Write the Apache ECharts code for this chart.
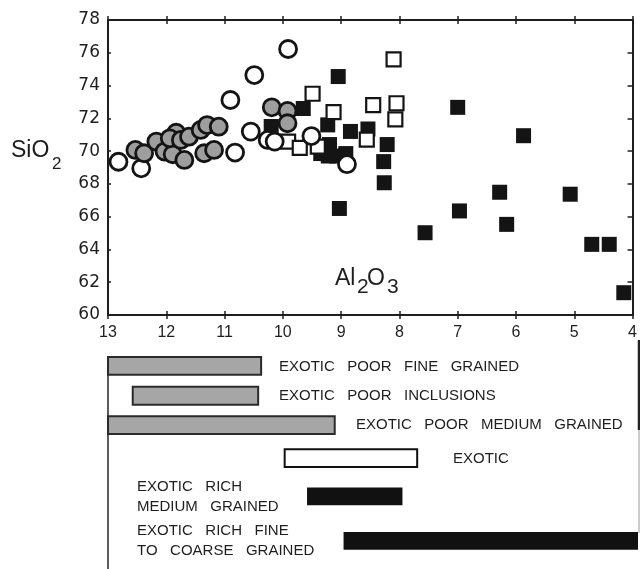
<!DOCTYPE html>
<html>
<head>
<meta charset="utf-8">
<script src="https://cdn.jsdelivr.net/npm/echarts@6/dist/echarts.min.js"></script>
<style>
html,body{margin:0;padding:0;background:#fff;}
#chart{width:640px;height:569px;}
</style>
</head>
<body>
<div id="chart"></div>
<script>
// ---- data (Al2O3, SiO2) ----
const grayCircles = [
  [12.53,70.07],[12.38,69.87],[12.17,70.58],[12.03,69.97],[11.89,69.81],[11.83,71.12],
  [11.94,70.78],[11.69,69.46],[11.75,70.68],[11.61,70.88],[11.41,71.29],[11.30,71.59],
  [11.10,71.49],[11.35,69.87],[11.18,70.07],[10.19,72.67],[9.92,72.45],[9.92,71.70]
];
const whiteCircles = [
  [12.82,69.35],[12.43,68.95],[10.82,69.91],[10.90,73.12],[10.49,74.64],[9.91,76.23],
  [10.55,71.19],[10.26,70.68],[10.14,70.58],[9.51,70.92],[8.90,69.20]
];
const openSquares = [
  [9.49,73.50],[9.91,70.58],[9.71,70.20],[9.40,70.27],[9.13,72.38],[8.10,75.60],
  [8.45,72.81],[8.05,72.92],[8.07,71.94],[8.56,70.70]
];
const blackSquares = [
  [10.20,71.50],[9.05,74.55],[9.65,72.60],[9.23,71.60],[8.84,71.20],[8.54,71.35],
  [8.21,70.40],[9.20,70.40],[9.35,69.85],[9.22,69.70],[9.08,69.70],[8.92,69.85],
  [8.27,69.36],[8.26,68.07],[9.03,66.50],[7.00,72.67],[5.87,70.94],[6.28,67.49],
  [6.97,66.35],[6.16,65.53],[7.56,65.02],[5.07,67.37],[4.70,64.31],[4.40,64.31],[4.15,61.36]
];
// ---- range bars (Al2O3 ranges) ----
const rangeLabels = [
  'EXOTIC   POOR   FINE   GRAINED',
  'EXOTIC   POOR   INCLUSIONS',
  'EXOTIC   POOR   MEDIUM   GRAINED',
  'EXOTIC',
  'EXOTIC   RICH\nMEDIUM   GRAINED',
  'EXOTIC   RICH   FINE\nTO   COARSE   GRAINED'
];
const rangeStart = [13.0, 12.58, 13.0, 10.0, 9.62, 9.0];
const rangeEnd   = [10.4, 10.45, 9.15, 7.75, 8.0, 4.0];
const xTicks = { min: 4, max: 13, interval: 1 };
const yTicks = { min: 60, max: 78, interval: 2 };

// ---- layout / style (not data) ----
const rowLevel = [0, 0.97, 1.93, 3, 4.25, 5.7];
const barStyles = [
  {fill:'#a6a6a6', stroke:'#2a2a2a', lineWidth:2},
  {fill:'#a6a6a6', stroke:'#2a2a2a', lineWidth:2},
  {fill:'#a6a6a6', stroke:'#2a2a2a', lineWidth:2},
  {fill:'#ffffff', stroke:'#111111', lineWidth:2},
  {fill:'#111111', stroke:'#111111', lineWidth:0},
  {fill:'#111111', stroke:'#111111', lineWidth:0}
];
const labelPos = [[279,367],[279,396],[356,425],[453,459],[137,497],[137,541]];

const ink = '#1e1e1e';
const FONT = '"Liberation Sans", Arial, sans-serif';
const chart = echarts.init(document.getElementById('chart'), null, {renderer:'canvas'});

function xAx(grid, pos, inside, showLabel, show) {
  return {
    type:'value', gridIndex:grid, position:pos, inverse:true,
    min:xTicks.min, max:xTicks.max, interval:xTicks.interval, show: show !== false,
    axisLine:{show:true, onZero:false, lineStyle:{color:ink, width:2}},
    axisTick:{show:true, inside:inside, length:4, lineStyle:{color:ink, width:1.5}},
    axisLabel:{show:showLabel, margin:10, fontSize:16, color:ink, fontFamily:FONT},
    splitLine:{show:false}
  };
}

const option = {
  animation:false,
  backgroundColor:'#fff',
  grid:[
    {left:108, right:2, top:20, height:295},
    {left:108, right:2, top:350.6, height:205.7}
  ],
  xAxis:[
    xAx(0,'bottom',true,true),
    xAx(0,'bottom',false,false),
    xAx(0,'top',true,false),
    xAx(0,'top',false,false),
    xAx(1,'bottom',true,false,false)
  ],
  yAxis:[
    {type:'value', gridIndex:0, position:'left', min:yTicks.min, max:yTicks.max, interval:yTicks.interval,
     axisLine:{show:true, onZero:false, lineStyle:{color:ink, width:2}},
     axisTick:{show:true, inside:true, length:3, lineStyle:{color:ink, width:1.5}},
     axisLabel:{margin:8, fontSize:17, color:ink, fontFamily:'"DejaVu Sans", sans-serif'},
     splitLine:{show:false}},
    {type:'value', gridIndex:0, position:'right', min:yTicks.min, max:yTicks.max, interval:yTicks.interval,
     axisLine:{show:true, onZero:false, lineStyle:{color:ink, width:2}},
     axisTick:{show:true, inside:true, length:5, lineStyle:{color:ink, width:1.5}},
     axisLabel:{show:false}, splitLine:{show:false}},
    {type:'value', gridIndex:1, min:-0.5, max:6.2, inverse:true, show:false}
  ],
  series:[
    {type:'scatter', name:'Exotic rich', xAxisIndex:0, yAxisIndex:0, data:blackSquares,
     symbol:'rect', symbolSize:15, itemStyle:{color:'#141414', opacity:1}},
    {type:'scatter', name:'Exotic', xAxisIndex:0, yAxisIndex:0, data:openSquares,
     symbol:'rect', symbolSize:14, itemStyle:{color:'#fff', borderColor:'#141414', borderWidth:2.2, opacity:1}},
    {type:'scatter', name:'Exotic poor (white)', xAxisIndex:0, yAxisIndex:0, data:whiteCircles,
     symbol:'circle', symbolSize:17, itemStyle:{color:'#fff', borderColor:'#141414', borderWidth:2.8, opacity:1}},
    {type:'scatter', name:'Exotic poor (gray)', xAxisIndex:0, yAxisIndex:0, data:grayCircles,
     symbol:'circle', symbolSize:17, itemStyle:{color:'#9e9e9e', borderColor:'#141414', borderWidth:2.8, opacity:1}},
    {type:'custom', name:'ranges', xAxisIndex:4, yAxisIndex:2, clip:false,
     data: rangeStart.map((s,i)=>[i, s, rangeEnd[i]]),
     encode:{x:[1,2], y:0},
     renderItem:function(params, api){
       const i = api.value(0);
       const p1 = api.coord([api.value(1), rowLevel[i]]);
       const p2 = api.coord([api.value(2), rowLevel[i]]);
       const h = api.size([0, 0.58])[1];
       return {type:'rect', shape:{x:p1[0], y:p1[1]-h/2, width:p2[0]-p1[0], height:h},
               style: barStyles[i]};
     }}
  ],
  graphic:[
    {type:'text', left:11, top:139, style:{text:'SiO', font:'23px '+FONT, fill:ink}},
    {type:'text', left:52, top:156, style:{text:'2', font:'17px '+FONT, fill:ink}},
    {type:'text', left:335, top:267, style:{text:'Al', font:'23px '+FONT, fill:ink}},
    {type:'text', left:357, top:277, style:{text:'2', font:'21px '+FONT, fill:ink}},
    {type:'text', left:367, top:267, style:{text:'O', font:'23px '+FONT, fill:ink}},
    {type:'text', left:387, top:277, style:{text:'3', font:'21px '+FONT, fill:ink}},
    {type:'line', shape:{x1:108, y1:356, x2:108, y2:569}, style:{stroke:'#333', lineWidth:1.6}},
    {type:'line', shape:{x1:639, y1:340, x2:639, y2:430}, style:{stroke:'#222', lineWidth:2.5}},
    {type:'line', shape:{x1:639, y1:430, x2:639, y2:533}, style:{stroke:'#999', lineWidth:1}}
  ].concat(rangeLabels.map((t,i)=>({
    type:'text', x:labelPos[i][0], y:labelPos[i][1],
    style:{text:t, font:'15px '+FONT, fill:ink, verticalAlign:'middle', lineHeight:20}
  })))
};
chart.setOption(option);
</script>
</body>
</html>
